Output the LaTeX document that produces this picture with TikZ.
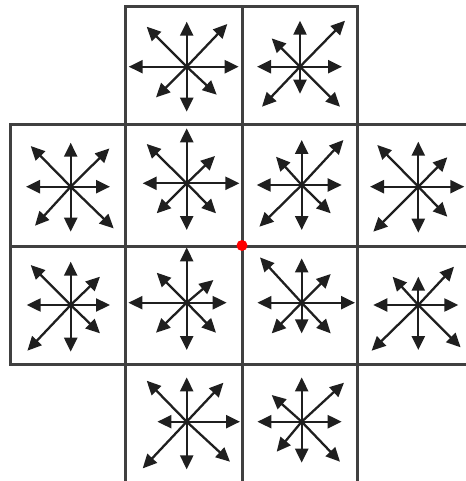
\documentclass[tikz,border=0pt]{standalone}
\usetikzlibrary{arrows.meta}
\begin{document}
\begin{tikzpicture}[x=1pt,y=-1pt,
  gridline/.style={line width=3pt,draw=black!75,line cap=rect},
  vec/.style={line width=2.3pt,draw=black!88,-{Triangle[length=14pt,width=13pt]},fill=black!88}]
\useasboundingbox (0,0) rectangle (465,481);
% grid
\draw[gridline] (125,7) -- (357,7);
\draw[gridline] (10,125) -- (465,125);
\draw[gridline] (10,246) -- (465,246);
\draw[gridline] (10,364) -- (465,364);
\draw[gridline] (10,125) -- (10,364);
\draw[gridline] (125,7) -- (125,481);
\draw[gridline] (242,7) -- (242,481);
\draw[gridline] (357,7) -- (357,481);
% cell centres
\coordinate (t1) at (186.7,66.7);
\coordinate (t2) at (300,66.7);
\coordinate (a0) at (70.7,186.7);
\coordinate (a1) at (186.7,183.3);
\coordinate (a2) at (301.7,185);
\coordinate (a3) at (418.3,186.7);
\coordinate (b0) at (70.7,305);
\coordinate (b1) at (186.7,302.7);
\coordinate (b2) at (301.7,302.7);
\coordinate (b3) at (418.3,305);
\coordinate (c1) at (186.7,421.7);
\coordinate (c2) at (301.7,421.7);
% arrows: up, down, left, right, UL, UR, DL, DR
\foreach \dx/\dy in {0/-45,0/45,-58/0,52/0,-40/-40,40.6/-42.7,-30.7/30.7,30/28}
  \draw[vec] (t1) -- ++(\dx,\dy);
\foreach \dx/\dy in {0/-46,0/27,-43/0,42/0,-28.3/-28.3,45/-46,-38/40,40/40}
  \draw[vec] (t2) -- ++(\dx,\dy);
\foreach \dx/\dy in {0/-44,0/45,-44.7/0,39.3/0,-40/-40.7,38.7/-38.3,-35.7/39,43/41.7}
  \draw[vec] (a0) -- ++(\dx,\dy);
\foreach \dx/\dy in {0/-55,0/46.7,-44/0,52.7/0,-40/-39.3,28.3/-27.3,-30/30,29.3/30}
  \draw[vec] (a1) -- ++(\dx,\dy);
\foreach \dx/\dy in {0/-45,0/45,-45/0,40/0,-25.7/-28.3,41.7/-45,-42.3/41.7,29/28.3}
  \draw[vec] (a2) -- ++(\dx,\dy);
\foreach \dx/\dy in {0/-45,0/46,-48.3/0,46/0,-41/-41.7,29/-29.4,-45/45,29/30}
  \draw[vec] (a3) -- ++(\dx,\dy);
\foreach \dx/\dy in {0/-43.3,0/46.7,-44/0,39.3/0,-40/-40,29.3/-28.3,-43.3/45.7,29.3/28.3}
  \draw[vec] (b0) -- ++(\dx,\dy);
\foreach \dx/\dy in {0/-55.3,0/47.3,-58.3/0,40/0,-30/-30,26.7/-22.7,-30.7/30,29.3/30}
  \draw[vec] (b1) -- ++(\dx,\dy);
\foreach \dx/\dy in {0/-44.3,0/30.7,-44.3/0,53.3/0,-41.7/-45.3,29/-28.7,-30/30.7,29/30.7}
  \draw[vec] (b2) -- ++(\dx,\dy);
\foreach \dx/\dy in {0/-28.3,0/45,-45/0,40/0,-25.7/-28.3,35.7/-38.3,-46.7/45.7,42.3/42.3}
  \draw[vec] (b3) -- ++(\dx,\dy);
\foreach \dx/\dy in {0/-44.3,0/47.7,-29.3/0,53.3/0,-40/-41,36.7/-39,-44/46.7,43.3/40}
  \draw[vec] (c1) -- ++(\dx,\dy);
\foreach \dx/\dy in {0/-44.3,0/41,-44.3/0,40/0,-30/-26.7,42.3/-39,-25/30,38.3/40}
  \draw[vec] (c2) -- ++(\dx,\dy);
% red point
\fill[red] (242,245.5) circle (5.5pt);
\end{tikzpicture}
\end{document}
